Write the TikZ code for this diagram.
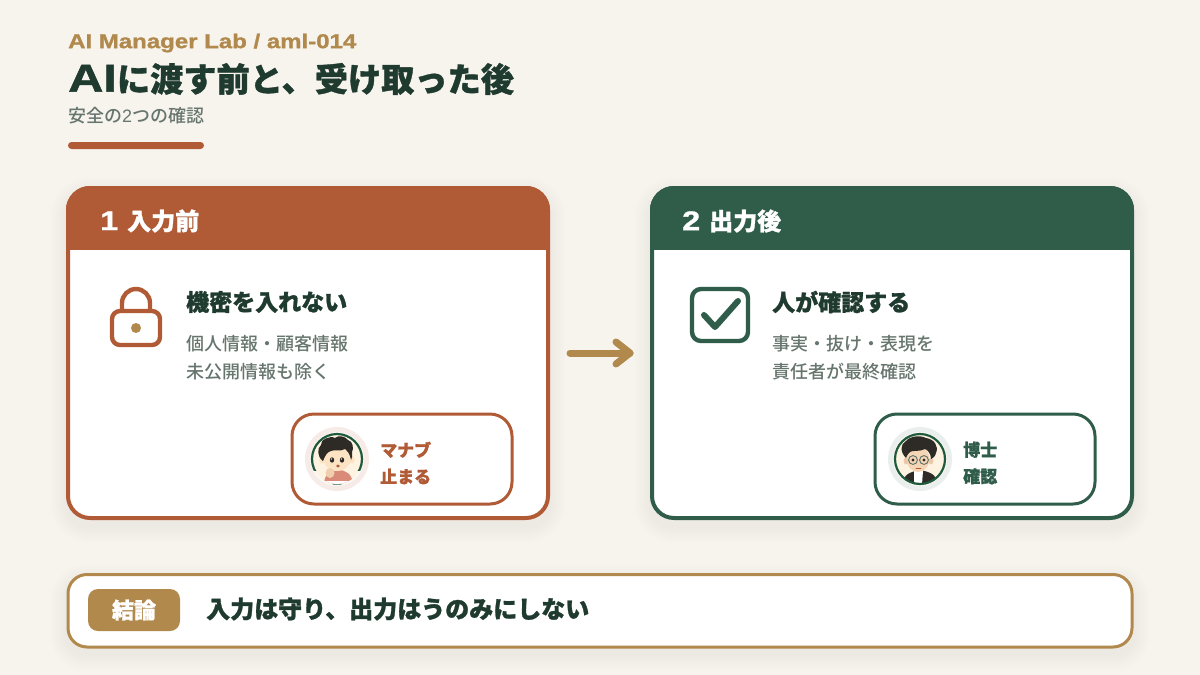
\documentclass[tikz,border=0pt]{standalone}
\usepackage{fontspec}
\setmainfont{Noto Sans CJK JP}
\newfontfamily\heavyface[FakeBold=1.1]{Noto Sans CJK JP Black}
\newfontfamily\midface{Noto Sans CJK JP Medium}
\newfontfamily\wideface[FakeStretch=1.2,FakeBold=1.2]{Liberation Sans Bold}
\newfontfamily\widerface[FakeStretch=1.25,FakeBold=1.4]{Liberation Sans Bold}
\newfontfamily\plainlatin{Liberation Sans}
\definecolor{paper}{HTML}{F7F4EE}
\definecolor{rust}{HTML}{B05A36}
\definecolor{pine}{HTML}{2F5D4A}
\definecolor{ochre}{HTML}{B1894C}
\definecolor{ink}{HTML}{1F3A2F}
\definecolor{slate}{HTML}{66756D}
\definecolor{skin}{HTML}{FBE3C4}
\definecolor{backdrop}{HTML}{FDF3E0}
\definecolor{hair}{HTML}{2E2A26}
\definecolor{ringgreen}{HTML}{1F5A3C}
\definecolor{shirt}{HTML}{D98A78}
\tikzset{
  x=1pt,y=-1pt,
  txt/.style={inner sep=0pt,anchor=west,align=left},
  eyebrow/.style={txt,text=ochre,font=\fontsize{20}{24}\selectfont},
  headline/.style={txt,text=ink,font=\heavyface\fontsize{33.2}{38}\selectfont},
  subhead/.style={txt,text=slate,font=\midface\fontsize{18}{20}\selectfont},
  cardtitle/.style={txt,text=white,font=\heavyface\fontsize{24}{28}\selectfont},
  itemtitle/.style={txt,text=ink,font=\heavyface\fontsize{23}{26}\selectfont},
  itembody/.style={txt,text=slate,font=\midface\fontsize{18}{28}\selectfont},
  tagtext/.style={txt,font=\heavyface\fontsize{17}{26.5}\selectfont},
  icon/.style={line width=4.4pt,line cap=round,line join=round},
}
% soft shadow built from stacked translucent rounded rectangles
\newcommand{\softshadow}[5]{%
  \foreach \g in {1,...,10}{
    \fill[black!70!pine,opacity=0.005,rounded corners={#5+\g*1.6pt}]
      (#1-\g*1.6,#2-\g*1.6+7) rectangle (#3+\g*1.6,#4+\g*1.6+7);
  }}
% pale halo behind a portrait
\newcommand{\halo}[3]{%
  \fill[#3] (#1,#2) circle (32);
  \fill[paper!60!white] (#1,#2) circle (27);
}
% card number, set larger than the title beside it
\newcommand{\cardnum}[1]{{\wideface\fontsize{27}{28}\selectfont #1}\hspace{9pt}}
\begin{document}
\begin{tikzpicture}
\useasboundingbox (0,0) rectangle (1200,675);
\fill[paper] (0,0) rectangle (1200,675);

% heading block
\node[eyebrow] (eyebrow) at (68,43) {\wideface AI Manager Lab / aml-014};
\node[headline] (headline) at (68,79) {{\widerface\fontsize{39}{38}\selectfont AI}に渡す前と、受け取った後};
\node[subhead] (subhead) at (68,116) {安全の{\plainlatin 2}つの確認};
\fill[rust,rounded corners=3.5pt] (68,142) rectangle (204,149);

% left card
\softshadow{66}{186}{550}{520}{24pt}
\fill[white,rounded corners=22pt] (68,188) rectangle (548,518);
\begin{scope}
  \clip[rounded corners=24pt] (66,186) rectangle (550,520);
  \fill[rust] (66,186) rectangle (550,250);
\end{scope}
\draw[rust,line width=4pt,rounded corners=22pt] (68,188) rectangle (548,518);
\node[cardtitle] (lefttitle) at (100,221) {\cardnum{1}入力前};

% padlock
\draw[rust,icon] (122,311) -- (122,303) arc[start angle=180,end angle=360,radius=14] -- (150,311);
\draw[rust,icon,rounded corners=8pt] (112,311) rectangle (160,345);
\fill[ochre] (136,328) circle (5);

\node[itemtitle] (leftitem) at (186,302) {機密を入れない};
\node[itembody] (leftbody) at (186,358) {個人情報・顧客情報\\未公開情報も除く};

% left speaker tag
\draw[rust,line width=3pt,fill=white,rounded corners=22pt] (292,414) rectangle (512,504);
\halo{337}{459}{rust!12}
% learner avatar
\begin{scope}
  \clip (337,459) circle (25);
  \fill[backdrop] (312,434) rectangle (362,484);
  \fill[shirt] (324,484) .. controls (324,474) and (332,470) .. (338,470)
    .. controls (346,470) and (352,474) .. (353,484) -- cycle;
  \fill[white] (312,481) rectangle (362,485);
\end{scope}
\fill[skin] (337,458) ellipse (14 and 13);
\fill[skin] (322,460) ellipse (2.8 and 3.6);
\fill[skin] (352,460) ellipse (2.8 and 3.6);
\fill[hair] (323,461) .. controls (317,457) and (317,448) .. (321,445)
  .. controls (320,440) and (330,435) .. (335,438)
  .. controls (338,435) and (345,436) .. (348,440)
  .. controls (353,441) and (354,449) .. (352,452)
  .. controls (353,455) and (352,458) .. (351,460)
  .. controls (350,453) and (347,451) .. (345,449)
  .. controls (340,452) and (335,449) .. (331,451)
  .. controls (327,452) and (325,456) .. (323,461) -- cycle;
\fill[hair] (332,460) ellipse (2.2 and 2.7);
\fill[hair] (342,460) ellipse (2.2 and 2.7);
\fill[white] (331.4,459) circle (.7);
\fill[white] (341.4,459) circle (.7);
\fill[rust] (338,466) ellipse (1.9 and 1.5);
\fill[skin!85!rust] (330,473) ellipse (4.5 and 5);
% ring stays open where the figure runs out at the bottom
\begin{scope}
  \clip (305,425) rectangle (369,470);
  \draw[ringgreen,line width=2.2pt] (337,459) circle (25);
\end{scope}
\draw[ringgreen,opacity=.6,line width=1pt,line cap=round] (333,484) -- (341,484);
\node[tagtext,text=rust] (lefttag) at (380,463) {マナブ\\止まる};

% transition arrow
\coordinate (flowstart) at (570,353);
\coordinate (flowend) at (630,353);
\coordinate (flowtop) at (616,342);
\coordinate (flowlow) at (616,364);
\draw[ochre,line width=7pt,line cap=round] (flowstart) -- (flowend);
\draw[ochre,line width=7pt,line cap=round,line join=round] (flowtop) -- (flowend) -- (flowlow);

% right card
\softshadow{650}{186}{1134}{520}{24pt}
\fill[white,rounded corners=22pt] (652,188) rectangle (1132,518);
\begin{scope}
  \clip[rounded corners=24pt] (650,186) rectangle (1134,520);
  \fill[pine] (650,186) rectangle (1134,250);
\end{scope}
\draw[pine,line width=4pt,rounded corners=22pt] (652,188) rectangle (1132,518);
\node[cardtitle] (righttitle) at (682,221) {\cardnum{2}出力後};

% check box
\draw[pine,icon,rounded corners=9pt] (692,289) rectangle (748,341);
\draw[pine,line width=6pt,line cap=round,line join=round] (704,315) -- (715,327) -- (738,301);

\node[itemtitle] (rightitem) at (772,302) {人が確認する};
\node[itembody] (rightbody) at (772,358) {事実・抜け・表現を\\責任者が最終確認};

% right speaker tag
\draw[pine,line width=3pt,fill=white,rounded corners=22pt] (875,414) rectangle (1095,504);
\halo{920}{459}{pine!10}
% doctor avatar
\begin{scope}
  \clip (920,459) circle (25);
  \fill[backdrop] (895,434) rectangle (945,484);
  \fill[hair] (902,484) .. controls (904,474) and (910,472) .. (920,470)
    .. controls (930,472) and (936,474) .. (938,484) -- cycle;
  \fill[white] (914,471) -- (923,471) -- (922,484) -- (914,484) -- cycle;
\end{scope}
\fill[skin!90!rust] (918,459) ellipse (11.5 and 13);
\fill[skin!80!rust] (906,461) ellipse (2.4 and 3.4);
\fill[skin!80!rust] (931,461) ellipse (2.4 and 3.4);
\fill[hair] (906,458) .. controls (900,452) and (900,444) .. (906,441)
  .. controls (910,436) and (920,435) .. (926,438)
  .. controls (934,439) and (939,446) .. (936,453)
  .. controls (935,457) and (933,458) .. (931,459)
  .. controls (931,454) and (928,450) .. (925,449)
  .. controls (920,452) and (912,450) .. (910,452)
  .. controls (908,453) and (907,456) .. (906,458) -- cycle;
\fill[hair] (913,460) circle (1.6);
\fill[hair] (924,460) circle (1.6);
\draw[slate!80!pine,line width=.9pt] (913,460) circle (4.4);
\draw[slate!80!pine,line width=.9pt] (924,460) circle (4.4);
\draw[rust,line width=.8pt,line cap=round] (916,468) -- (921,468);
\draw[ringgreen,line width=2.2pt] (920,459) circle (25);
\node[tagtext,text=pine] (righttag) at (963,463) {博士\\確認};

% conclusion bar
\softshadow{66}{573}{1134}{648}{20pt}
\draw[ochre,line width=3pt,fill=white,rounded corners=19pt] (68,574.5) rectangle (1132,647);
\node[fill=ochre,rounded corners=10pt,minimum width=92pt,minimum height=42pt,inner sep=0pt,text=white,font=\heavyface\fontsize{22}{24}\selectfont] (verdict) at (134,610) {結論};
\node[txt,text=ink,font=\heavyface\fontsize{24}{27}\selectfont] (verdicttext) at (206,609) {入力は守り、出力はうのみにしない};
\end{tikzpicture}
\end{document}
